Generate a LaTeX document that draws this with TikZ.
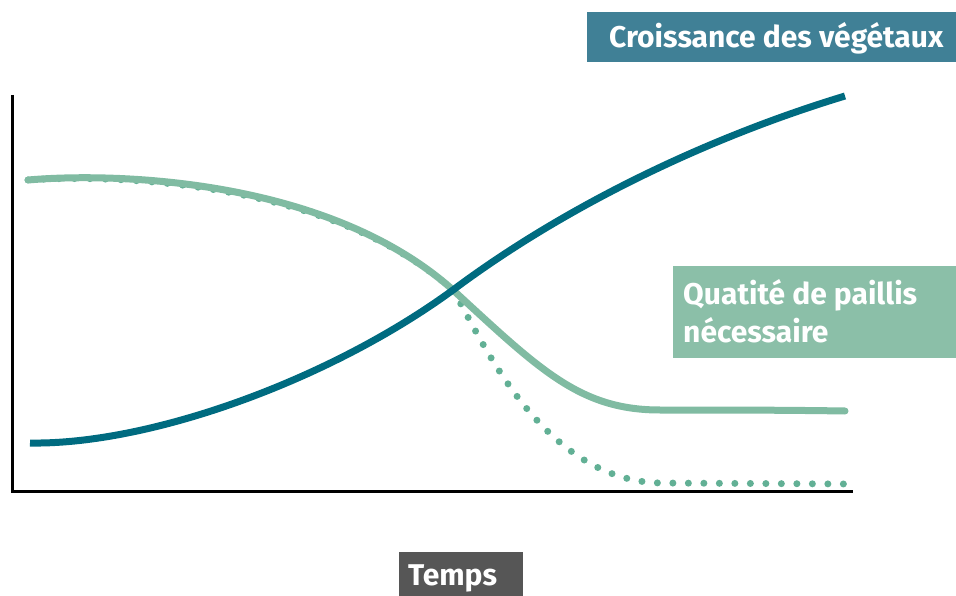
\documentclass[tikz,border=0pt]{standalone}
\usepackage{fontspec}
\setmainfont{Fira Sans}
\definecolor{tealdark}{HTML}{006B80}
\definecolor{greenlight}{HTML}{80BBA2}
\definecolor{greendot}{HTML}{62B095}
\definecolor{titlebg}{HTML}{408096}
\definecolor{labelbg}{HTML}{8BBFA8}
\definecolor{timebg}{HTML}{565656}
\tikzset{
  axisline/.style={line width=3pt, black},
  growth/.style={line width=7pt, tealdark},
  mulch/.style={line width=7pt, greenlight, line cap=round},
  mulchdots/.style={line width=7pt, greendot, line cap=round, dash pattern=on 0pt off 15.5pt},
  labeltext/.style={text=white, font=\bfseries\fontsize{30}{36}\selectfont, inner sep=0pt, anchor=base west},
}
\begin{document}
\begin{tikzpicture}[x=1pt,y=-1pt]
\useasboundingbox (0,0) rectangle (956,596);
% axes
\coordinate (otop) at (12,95);
\coordinate (origin) at (12,491);
\coordinate (xend) at (853,491);
\draw[axisline] (otop) -- (origin) -- (xend);
% shared points
\coordinate (g0) at (28,180);
\coordinate (gx) at (453,290);
% dotted curve
\coordinate (d2) at (660,483);
\coordinate (d3) at (848,484);
\draw[mulchdots] (g0) .. controls (120,174) and (330,182) .. (gx) .. controls (480,335) and (540,480) .. (d2) -- (d3);
% green curve
\coordinate (g2) at (660,410);
\coordinate (g3) at (845,411);
\draw[mulch] (g0) .. controls (120,172) and (330,180) .. (gx) .. controls (540,370) and (580,410) .. (g2) .. controls (720,410) and (780,410) .. (g3);
% teal curve
\coordinate (t0) at (30,443);
\coordinate (t3) at (845,96);
\draw[growth] (t0) .. controls (150,445) and (330,380) .. (gx) .. controls (560,210) and (700,140) .. (t3);
% boxes
\fill[titlebg] (587,12) rectangle (956,62);
\node[labeltext] (title) at (609,48) {Croissance des végétaux};
\fill[labelbg] (673,266) rectangle (956,358);
\node[labeltext] (lab1) at (683,305) {Quatité de paillis};
\node[labeltext] (lab2) at (683,342) {nécessaire};
\fill[timebg] (399,552) rectangle (523,596);
\node[labeltext] (temps) at (408,585) {Temps};
\end{tikzpicture}
\end{document}
